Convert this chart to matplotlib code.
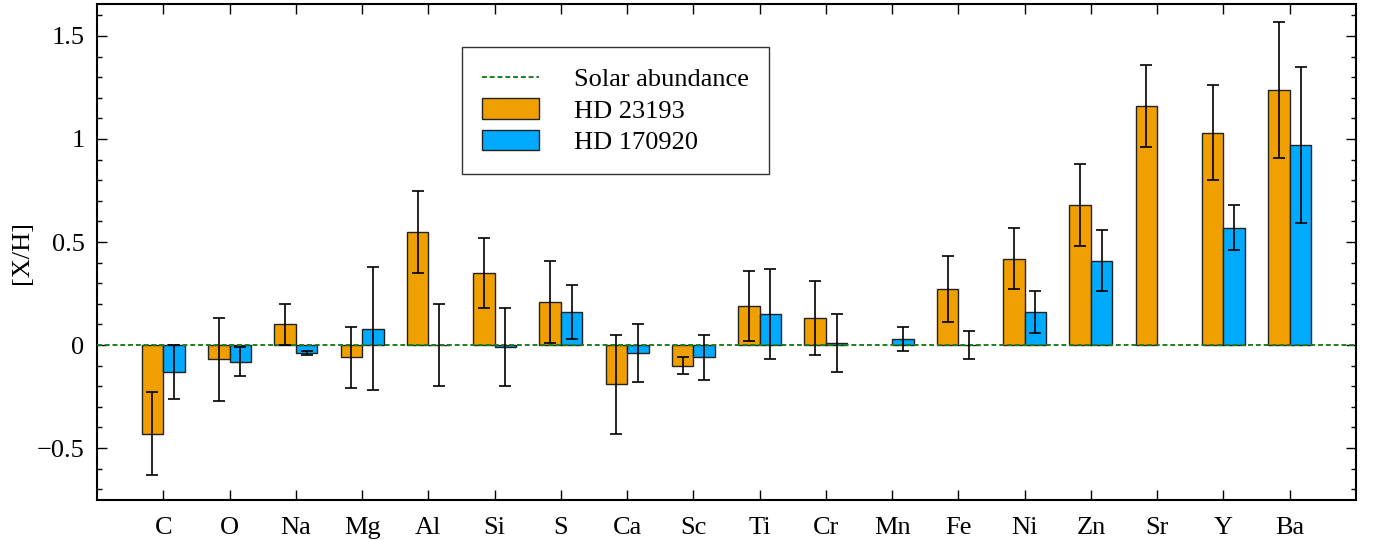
import matplotlib
matplotlib.use('Agg')
import matplotlib.pyplot as plt
from matplotlib.ticker import MultipleLocator
import numpy as np

plt.rcParams['font.family'] = ['Liberation Serif', 'DejaVu Serif']
plt.rcParams['mathtext.fontset'] = 'stix'

elements = ['C', 'O', 'Na', 'Mg', 'Al', 'Si', 'S', 'Ca', 'Sc', 'Ti', 'Cr',
            'Mn', 'Fe', 'Ni', 'Zn', 'Sr', 'Y', 'Ba']

# HD 23193
hd23193 = [-0.43, -0.07, 0.10, -0.06, 0.55, 0.35, 0.21, -0.19, -0.10, 0.19,
           0.13, np.nan, 0.27, 0.42, 0.68, 1.16, 1.03, 1.24]
hd23193_err = [0.20, 0.20, 0.10, 0.15, 0.20, 0.17, 0.20, 0.24, 0.04, 0.17,
               0.18, np.nan, 0.16, 0.15, 0.20, 0.20, 0.23, 0.33]

# HD 170920
hd170920 = [-0.13, -0.08, -0.04, 0.08, 0.00, -0.01, 0.16, -0.04, -0.06, 0.15,
            0.01, 0.03, 0.00, 0.16, 0.41, np.nan, 0.57, 0.97]
hd170920_err = [0.13, 0.07, 0.01, 0.30, 0.20, 0.19, 0.13, 0.14, 0.11, 0.22,
                0.14, 0.06, 0.07, 0.10, 0.15, np.nan, 0.11, 0.38]

ytick_vals = [-0.5, 0, 0.5, 1, 1.5]
ytick_labels = ['\u22120.5', '0', '0.5', '1', '1.5']

orange = '#EFA000'
blue = '#00AAFF'
green = '#1E7F1E'

fig = plt.figure(figsize=(13.74, 5.4), dpi=100)
ax = fig.add_axes([0.0706, 0.074, 0.9163, 0.9186])

x = np.arange(len(elements))
w = 0.325

ax.bar(x - w / 2, hd23193, w, color=orange, edgecolor='#222222', linewidth=1.0,
       label='HD 23193', zorder=2)
ax.bar(x + w / 2, hd170920, w, color=blue, edgecolor='#222222', linewidth=1.0,
       label='HD 170920', zorder=2)
ax.errorbar(x - w / 2, hd23193, yerr=hd23193_err, fmt='none', ecolor='black',
            elinewidth=1.2, capsize=4.3, capthick=1.2, zorder=4)
ax.errorbar(x + w / 2, hd170920, yerr=hd170920_err, fmt='none', ecolor='black',
            elinewidth=1.2, capsize=4.3, capthick=1.2, zorder=4)

ax.axhline(0, color=green, linestyle=(0, (2.5, 1.5)), linewidth=1.4,
           label='Solar abundance', zorder=3)

ax.set_xlim(-1, 18)
ax.set_ylim(-0.752, 1.655)
ax.set_xticks(x)
ax.set_xticklabels(elements)
ax.set_yticks(ytick_vals)
ax.set_yticklabels(ytick_labels)
ax.yaxis.set_minor_locator(MultipleLocator(0.1))
ax.set_ylabel('[X/H]', fontsize=19, labelpad=3)

ax.tick_params(axis='both', which='major', direction='in', length=7, width=1.0,
               labelsize=19, top=True, right=True)
ax.tick_params(axis='x', which='major', pad=12)
ax.tick_params(axis='y', which='major', pad=9)
ax.tick_params(axis='y', which='minor', direction='in', length=3.5, width=1.0,
               right=True)
for s in ax.spines.values():
    s.set_linewidth(1.5)

handles, labels = ax.get_legend_handles_labels()
order = [labels.index('Solar abundance'), labels.index('HD 23193'),
         labels.index('HD 170920')]
leg = ax.legend([handles[i] for i in order], [labels[i] for i in order],
                loc='upper left', bbox_to_anchor=(0.29, 0.913), fontsize=19,
                fancybox=False, edgecolor='#333333', framealpha=1,
                handlelength=2.15, handleheight=0.8, borderpad=0.75,
                labelspacing=0.27, handletextpad=1.35, borderaxespad=0)
leg.get_frame().set_linewidth(1.0)

fig.savefig('out.png', dpi=100)
plt.close(fig)
